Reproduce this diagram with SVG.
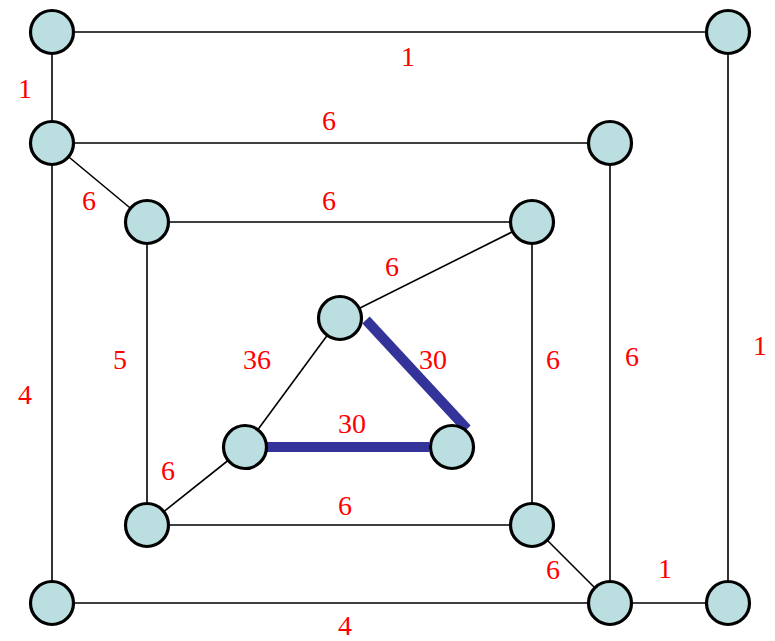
<svg xmlns="http://www.w3.org/2000/svg" width="775" height="641" viewBox="0 0 775 641">
<style>
.e{stroke:#000;stroke-width:1.6;fill:none}
.b{stroke:#333399;stroke-width:10;fill:none}
.n{fill:#bbdfe1;stroke:#000;stroke-width:3.2}
.l{font-family:"Liberation Serif",serif;font-size:28px;fill:#ff0000;text-anchor:middle}
</style>
<rect width="775" height="641" fill="#fff"/>
<g id="connectors">
<line class="e" x1="52" y1="32" x2="728" y2="32"/>
<line class="e" x1="52" y1="32" x2="52" y2="143"/>
<line class="e" x1="728" y1="32" x2="728" y2="603"/>
<line class="e" x1="52" y1="143" x2="610" y2="143"/>
<line class="e" x1="52" y1="143" x2="147" y2="222"/>
<line class="e" x1="52" y1="143" x2="52" y2="603"/>
<line class="e" x1="610" y1="143" x2="610" y2="603"/>
<line class="e" x1="147" y1="222" x2="532" y2="222"/>
<line class="e" x1="147" y1="222" x2="147" y2="525"/>
<line class="e" x1="532" y1="222" x2="340" y2="318"/>
<line class="e" x1="532" y1="222" x2="532" y2="525"/>
<line class="e" x1="340" y1="318" x2="245" y2="447"/>
<line class="e" x1="245" y1="447" x2="147" y2="525"/>
<line class="e" x1="147" y1="525" x2="532" y2="525"/>
<line class="e" x1="532" y1="525" x2="610" y2="603"/>
<line class="e" x1="52" y1="603" x2="728" y2="603"/>
<line class="b" x1="366" y1="320" x2="467" y2="429"/>
<line class="b" x1="267" y1="447" x2="429" y2="447"/>
</g>
<g id="nA"><circle class="n" cx="52" cy="32" r="21.5"/></g>
<g id="nB"><circle class="n" cx="728" cy="32" r="21.5"/></g>
<g id="nC"><circle class="n" cx="52" cy="143" r="21.5"/></g>
<g id="nD"><circle class="n" cx="610" cy="143" r="21.5"/></g>
<g id="nE"><circle class="n" cx="147" cy="222" r="21.5"/></g>
<g id="nF"><circle class="n" cx="532" cy="222" r="21.5"/></g>
<g id="nG"><circle class="n" cx="340" cy="318" r="21.5"/></g>
<g id="nH"><circle class="n" cx="245" cy="447" r="21.5"/></g>
<g id="nI"><circle class="n" cx="452" cy="447" r="21.5"/></g>
<g id="nJ"><circle class="n" cx="147" cy="525" r="21.5"/></g>
<g id="nK"><circle class="n" cx="532" cy="525" r="21.5"/></g>
<g id="nL"><circle class="n" cx="52" cy="603" r="21.5"/></g>
<g id="nM"><circle class="n" cx="610" cy="603" r="21.5"/></g>
<g id="nN"><circle class="n" cx="728" cy="603" r="21.5"/></g>
<g id="labels">
<text class="l" x="408" y="66">1</text>
<text class="l" x="25" y="98">1</text>
<text class="l" x="329" y="130">6</text>
<text class="l" x="89" y="210">6</text>
<text class="l" x="329" y="210">6</text>
<text class="l" x="392" y="276">6</text>
<text class="l" x="257" y="369">36</text>
<text class="l" x="433" y="369">30</text>
<text class="l" x="120" y="369">5</text>
<text class="l" x="553" y="369">6</text>
<text class="l" x="632" y="366">6</text>
<text class="l" x="760" y="355">1</text>
<text class="l" x="25" y="404">4</text>
<text class="l" x="352" y="433">30</text>
<text class="l" x="168" y="480">6</text>
<text class="l" x="345" y="515">6</text>
<text class="l" x="553" y="579">6</text>
<text class="l" x="665" y="578">1</text>
<text class="l" x="345" y="635">4</text>
</g>
</svg>
